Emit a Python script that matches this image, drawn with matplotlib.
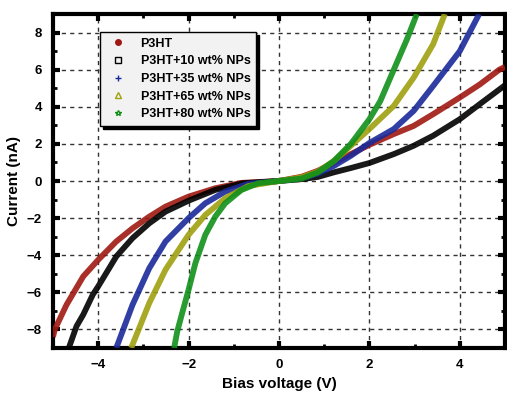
import matplotlib
matplotlib.use('Agg')
import matplotlib.pyplot as plt
from matplotlib.lines import Line2D
import numpy as np

plt.rcParams['font.family'] = ['Liberation Sans', 'DejaVu Sans']
plt.rcParams['font.weight'] = 'bold'

# P3HT
v_p3ht = [-5.0, -4.96, -4.70, -4.33, -4.0, -3.6, -3.24, -2.87, -2.51, -2.0, -1.41, -0.83, 0.0,
          0.5, 0.86, 1.22, 1.59, 2.0, 2.54, 2.98, 3.41, 4.0, 4.44, 4.875, 5.0]
i_p3ht = [-8.4, -8.0, -6.67, -5.14, -4.25, -3.26, -2.55, -1.92, -1.38, -0.84, -0.39, -0.1, 0.0,
          0.23, 0.55, 1.0, 1.45, 1.95, 2.53, 2.97, 3.6, 4.5, 5.2, 6.0, 6.15]
# P3HT+10 wt% NPs
v_10 = [-4.65, -4.48, -4.33, -4.12, -4.0, -3.6, -3.24, -2.87, -2.51, -2.0, -1.41, -0.8, 0.0,
        0.5, 0.86, 1.22, 1.59, 2.0, 2.54, 2.98, 3.41, 4.0, 4.44, 5.0]
i_10 = [-9.0, -7.83, -7.2, -6.13, -5.68, -4.07, -3.08, -2.28, -1.65, -1.06, -0.48, -0.12, 0.0,
        0.1, 0.22, 0.47, 0.7, 0.97, 1.45, 1.9, 2.44, 3.33, 4.14, 5.16]
# P3HT+35 wt% NPs
v_35 = [-3.6, -3.24, -2.87, -2.51, -2.0, -1.63, -1.19, -0.68, 0.0,
        0.5, 0.86, 1.22, 1.59, 2.0, 2.54, 2.98, 3.41, 4.0, 4.43]
i_35 = [-9.0, -6.67, -4.7, -3.26, -2.0, -1.2, -0.57, -0.15, 0.0,
        0.15, 0.4, 0.82, 1.36, 2.05, 2.8, 3.78, 5.12, 7.0, 9.0]
# P3HT+65 wt% NPs
v_65 = [-3.27, -2.87, -2.51, -2.0, -1.63, -1.19, -0.68, 0.0,
        0.5, 0.86, 1.22, 1.59, 2.0, 2.54, 2.98, 3.41, 3.67]
i_65 = [-9.0, -6.58, -4.78, -2.9, -1.83, -0.93, -0.27, 0.0,
        0.2, 0.5, 1.09, 1.9, 2.8, 4.05, 5.57, 7.37, 9.0]
# P3HT+80 wt% NPs
v_80 = [-2.32, -2.25, -2.14, -2.0, -1.85, -1.63, -1.41, -1.19, -0.83, -0.46, 0.0,
        0.5, 0.86, 1.22, 1.59, 2.0, 2.24, 2.54, 2.83, 3.05]
i_80 = [-9.0, -8.1, -7.1, -5.86, -4.43, -2.9, -1.92, -1.2, -0.48, -0.12, 0.0,
        0.13, 0.46, 1.09, 2.0, 3.33, 4.3, 6.0, 7.63, 9.0]

series = [
    (v_p3ht, i_p3ht, 'P3HT', '#a01812', 'o', 'full'),
    (v_10, i_10, 'P3HT+10 wt% NPs', '#000000', 's', 'none'),
    (v_35, i_35, 'P3HT+35 wt% NPs', '#1a2a9a', '+', 'full'),
    (v_65, i_65, 'P3HT+65 wt% NPs', '#a0a010', '^', 'none'),
    (v_80, i_80, 'P3HT+80 wt% NPs', '#10901a', '*', 'none'),
]

fig = plt.figure(figsize=(5.07, 3.96), dpi=100)
ax = fig.add_axes([0.1045, 0.1212, 0.8915, 0.8434])

handles = []
for v, i, lab, c, m, fs in series:
    ax.plot(v, i, '-', color=c, lw=4.2, alpha=0.9, zorder=3,
            solid_joinstyle='round', solid_capstyle='butt')
    handles.append(Line2D([], [], ls='none', marker=m, color=c, ms=4, mew=1,
                          mfc=('none' if fs == 'none' else c), label=lab))

ax.set_xlim(-5, 5)
ax.set_ylim(-9, 9)
ax.set_xticks([-4, -2, 0, 2, 4])
ax.set_yticks([-8, -6, -4, -2, 0, 2, 4, 6, 8])
ax.set_xticks(np.arange(-5, 6, 1), minor=True)
ax.set_yticks(np.arange(-9, 10, 1), minor=True)
ax.tick_params(which='major', direction='in', length=5, width=3, top=True, right=True,
               labelsize=9.5, pad=8)
ax.tick_params(which='minor', direction='in', length=3, width=2, top=True, right=True)
for s in ax.spines.values():
    s.set_linewidth(3)
ax.grid(True, which='major', color='#333333', ls=(0, (3, 3)), lw=1)
ax.set_axisbelow(True)

ax.set_xlabel('Bias voltage (V)', fontsize=11, fontweight='bold')
ax.set_ylabel('Current (nA)', fontsize=11, fontweight='bold')

leg = ax.legend(handles=handles, loc='upper left', bbox_to_anchor=(0.104, 0.946),
                borderaxespad=0, fontsize=9.0, frameon=True, fancybox=False,
                edgecolor='black', facecolor='#f2f2f2', framealpha=1,
                shadow={'color': 'black', 'alpha': 1}, handlelength=2.0,
                handletextpad=0.8, borderpad=0.45, labelspacing=0.45)
leg.get_frame().set_linewidth(1)
for t in leg.get_texts():
    t.set_fontweight('bold')

fig.savefig('out.png', dpi=100)
